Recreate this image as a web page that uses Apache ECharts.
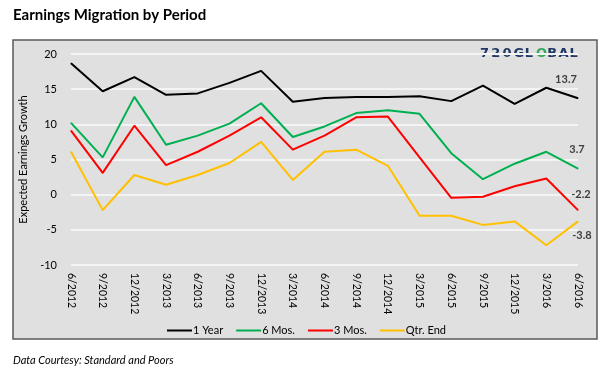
<!DOCTYPE html>
<html>
<head>
<meta charset="utf-8">
<script src="https://cdn.jsdelivr.net/npm/echarts@6/dist/echarts.min.js"></script>
<style>
html,body{margin:0;padding:0;background:#fff;}
#c{width:613px;height:378px;}
</style>
</head>
<body>
<div id="c"></div>
<script>
const categories = ['6/2012','9/2012','12/2012','3/2013','6/2013','9/2013','12/2013','3/2014','6/2014','9/2014','12/2014','3/2015','6/2015','9/2015','12/2015','3/2016','6/2016'];
const oneYear  = [18.7, 14.7, 16.7, 14.2, 14.4, 15.9, 17.6, 13.2, 13.75, 13.9, 13.9, 14.0, 13.3, 15.5, 12.9, 15.2, 13.7];
const sixMos   = [10.2, 5.3, 13.9, 7.1, 8.4, 10.1, 13.0, 8.2, 9.7, 11.6, 12.0, 11.5, 5.9, 2.2, 4.4, 6.1, 3.7];
const threeMos = [9.1, 3.1, 9.8, 4.2, 6.1, 8.4, 11.0, 6.4, 8.4, 11.0, 11.1, 5.3, -0.45, -0.3, 1.2, 2.3, -2.2];
const qtrEnd   = [6.1, -2.2, 2.8, 1.4, 2.8, 4.5, 7.5, 2.1, 6.1, 6.4, 4.1, -3.0, -3.0, -4.3, -3.8, -7.2, -3.8];
const seriesNames = ['1 Year', '6 Mos.', '3 Mos.', 'Qtr. End'];
const yTicks = [-10, -5, 0, 5, 10, 15, 20];
const logoLetters = ['7','2','0','G','L','O','B','A','L'];

const FONT = 'Lato, "Open Sans", sans-serif';
const chart = echarts.init(document.getElementById('c'));

function withEndLabel(arr, pos, offset) {
  return arr.map((v, i) => i === arr.length - 1 ? {
    value: v,
    label: {
      show: true, position: pos, offset: offset,
      fontFamily: FONT, fontSize: 11, fontWeight: 'bold', color: '#404040',
      formatter: p => p.value.toFixed(1)
    }
  } : v);
}

const colors = ['#000000', '#00B050', '#FF0000', '#FFC000'];
const datasets = [
  withEndLabel(oneYear, 'top', [-12, -8]),
  withEndLabel(sixMos, 'top', [-1, -8]),
  withEndLabel(threeMos, 'top', [3, -5]),
  withEndLabel(qtrEnd, 'bottom', [4, 3])
];

const logo = logoLetters.map((ch, i) => ({
  type: 'text', x: 480 + i * 11.2, y: 47,
  style: {
    text: ch, font: 'bold 13px "DejaVu Sans", sans-serif',
    fill: ch === 'O' ? '#3aa65a' : '#1f3864'
  }
}));

chart.setOption({
  animation: false,
  textStyle: { fontFamily: FONT },
  graphic: [
    { type: 'rect', z: -10, shape: { x: 13, y: 40, width: 584, height: 299 },
      style: { fill: '#e0e0e0', stroke: '#5a5a5a', lineWidth: 1.5 } },
    { type: 'text', left: 13, top: 8,
      style: { text: 'Earnings Migration by Period', font: 'bold 15px ' + FONT, fill: '#000' } },
    { type: 'text', left: 13, top: 355,
      style: { text: 'Data Courtesy: Standard and Poors', font: 'italic 11px ' + FONT, fill: '#000' } }
  ].concat(logo),
  legend: {
    bottom: 37, left: 'center',
    itemWidth: 25, itemHeight: 2, itemGap: 13,
    icon: 'rect',
    textStyle: { fontFamily: FONT, fontSize: 11, color: '#000', padding: [0, 0, 0, -4] },
    data: seriesNames
  },
  grid: { left: 71, right: 35, top: 54, bottom: 113 },
  xAxis: {
    type: 'category', data: categories, boundaryGap: false,
    axisLine: { show: false }, axisTick: { show: false },
    axisLabel: { rotate: -90, fontSize: 10.5, color: '#000', margin: 8, interval: 0, fontFamily: FONT }
  },
  yAxis: {
    type: 'value', min: -10, max: 20, interval: 5,
    name: 'Expected Earnings Growth', nameLocation: 'middle', nameGap: 38,
    nameTextStyle: { fontSize: 11, color: '#000', fontFamily: FONT },
    axisLine: { show: false }, axisTick: { show: false },
    axisLabel: { fontSize: 11, color: '#000', margin: 14, fontFamily: FONT,
      formatter: v => yTicks.includes(v) ? String(v) : '' },
    splitLine: { lineStyle: { color: '#f4f4f4', width: 2 } }
  },
  series: seriesNames.map((n, i) => ({
    name: n, type: 'line', data: datasets[i],
    symbol: 'circle', symbolSize: 1, showSymbol: true,
    lineStyle: { color: colors[i], width: 2 },
    itemStyle: { color: colors[i] },
    label: { show: false }
  }))
});
</script>
</body>
</html>
